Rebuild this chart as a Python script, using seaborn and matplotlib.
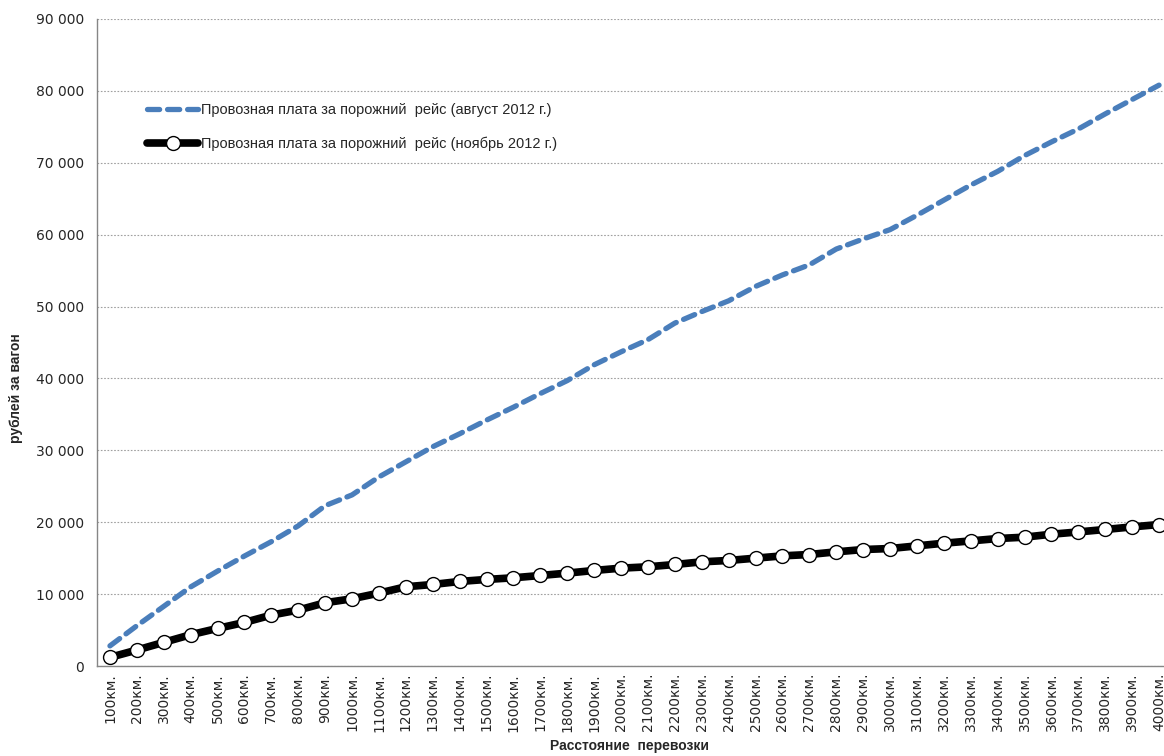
import numpy as np
import pandas as pd
import seaborn as sns
from matplotlib import pyplot as plt
from matplotlib.ticker import FuncFormatter, FixedLocator

distances = [f"{d}км." for d in range(100, 4100, 100)]

august_2012 = [2800, 5600, 8300, 11000, 13200, 15300, 17300, 19500, 22300, 23800,
               26300, 28400, 30500, 32300, 34200, 36000, 37900, 39700, 41900, 43700,
               45400, 47700, 49300, 50800, 52800, 54400, 55800, 58000, 59400, 60700,
               62700, 64800, 66900, 68800, 71000, 72900, 74700, 76800, 78800, 80800]

november_2012 = [1200, 2220, 3290, 4350, 5230, 6060, 7080, 7780, 8800, 9350,
                 10140, 11020, 11340, 11760, 12040, 12270, 12590, 12920, 13290, 13610,
                 13800, 14120, 14490, 14680, 15000, 15320, 15510, 15880, 16200, 16340,
                 16710, 17080, 17400, 17730, 17920, 18330, 18650, 18990, 19350, 19680]

label_aug = "Провозная плата за порожний  рейс (август 2012 г.)"
label_nov = "Провозная плата за порожний  рейс (ноябрь 2012 г.)"

sns.set_style("white")
plt.rcParams['font.family'] = ['Liberation Sans', 'DejaVu Sans']

df = pd.DataFrame({"dist": distances, "aug": august_2012, "nov": november_2012})

fig = plt.figure(figsize=(11.64, 7.56), dpi=100)
ax = fig.add_axes([96.5 / 1164, 1 - 666 / 756, 1076 / 1164, (666 - 19) / 756])

sns.lineplot(data=df, x="dist", y="aug", ax=ax, color="#4A7EBB", linewidth=3.8,
             sort=False, label=label_aug)
sns.lineplot(data=df, x="dist", y="nov", ax=ax, color="black", linewidth=5.5,
             marker="o", markersize=10, markerfacecolor="white",
             markeredgecolor="black", markeredgewidth=1.0, sort=False, label=label_nov)

blue = ax.lines[0]
blue.set_dashes((2.3, 1.5))
blue.set_dash_capstyle("round")

ax.set_xlim(-0.5, len(distances) - 0.5)
ax.set_ylim(0, 90000)
ax.set_yticks(np.arange(0, 90001, 10000))
ax.yaxis.set_major_formatter(FuncFormatter(lambda v, p: f"{int(v):,}".replace(",", " ")))

ax.set_xticks(range(len(distances)))
ax.set_xticklabels(distances, rotation=90, fontsize=10, family=['DejaVu Sans'])
ax.xaxis.set_minor_locator(FixedLocator(np.arange(-0.5, len(distances), 1)))
ax.tick_params(axis="x", which="major", length=0, pad=5)
ax.tick_params(axis="x", which="minor", length=5, color="#868686", width=1)
ax.tick_params(axis="y", length=5, color="#868686", width=1, labelsize=10, pad=4)
for t in ax.get_yticklabels():
    t.set_family(['DejaVu Sans'])

ax.grid(axis="y", color="#A0A0A0", linestyle=(0, (1.5, 1.5)), linewidth=0.8)
ax.set_axisbelow(True)
for s in ["top", "right"]:
    ax.spines[s].set_visible(False)
for s in ["left", "bottom"]:
    ax.spines[s].set_color("#868686")
    ax.spines[s].set_linewidth(1)

ax.set_xlabel("Расстояние  перевозки", fontsize=10, fontweight="bold")
ax.set_ylabel("рублей за вагон", fontsize=10, fontweight="bold")
ax.xaxis.set_label_coords(0.495, -0.113)
ax.yaxis.set_label_coords(-0.068, 0.43)

ax.legend(loc="upper left", bbox_to_anchor=(0.035, 0.89), frameon=False,
          fontsize=10.5, handlelength=3.5, handletextpad=0.2, labelspacing=1.3)

plt.savefig("out.png", dpi=100)
